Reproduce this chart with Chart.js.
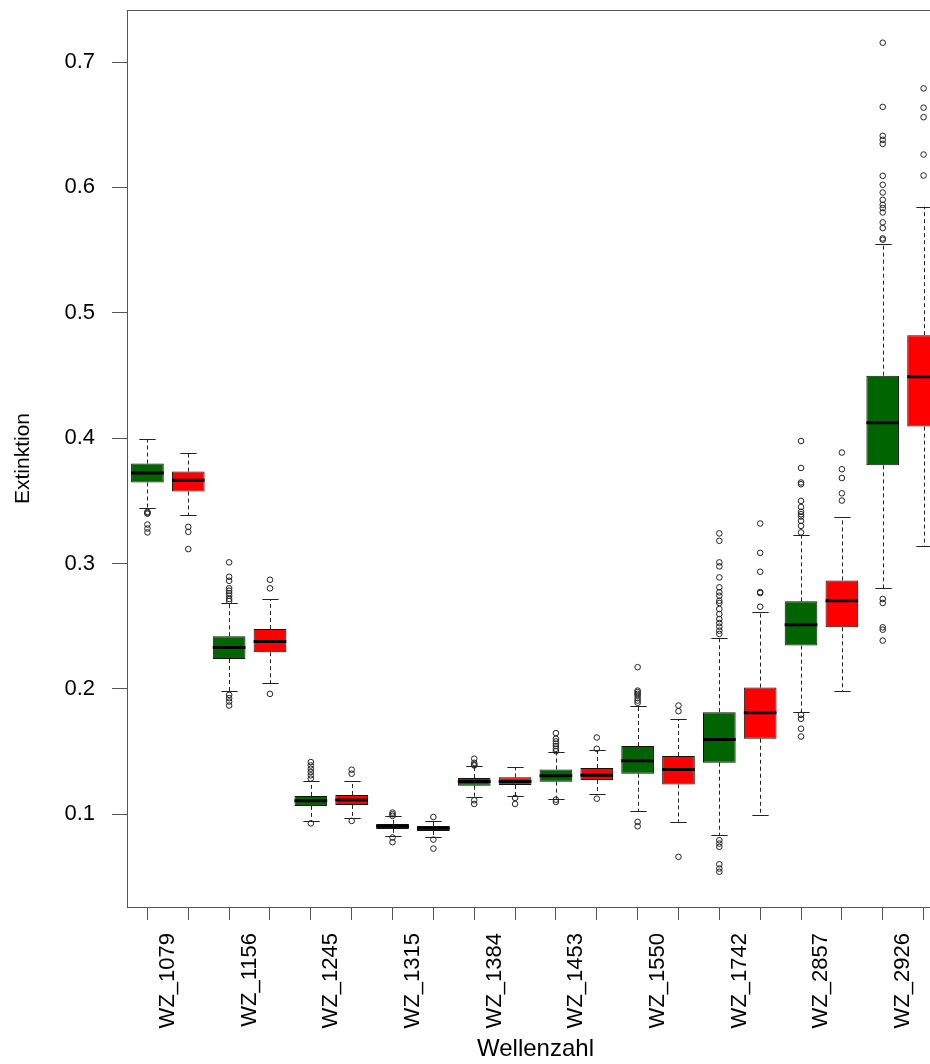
<!DOCTYPE html>
<html>
<head>
<meta charset="utf-8">
<script src="https://cdn.jsdelivr.net/npm/chart.js@4.4.1/dist/chart.umd.min.js"></script>
<style>
  html, body { margin: 0; padding: 0; background: #fff; overflow: hidden; }
  #wrap { width: 960px; height: 1064px; }
</style>
</head>
<body>
<div id="wrap"><canvas id="chart" width="960" height="1064"></canvas></div>
<script>
// Wellenzahlen, je zwei Boxen (grün / rot)
const wavenumbers = ['WZ_1079', 'WZ_1156', 'WZ_1245', 'WZ_1315', 'WZ_1384',
                     'WZ_1453', 'WZ_1550', 'WZ_1742', 'WZ_2857', 'WZ_2926'];

// Kennwerte der 20 Boxen
const whiskerLow  = [0.3440, 0.3383, 0.1979, 0.2045, 0.0943, 0.0967, 0.0827, 0.0819, 0.1135, 0.1143,
                     0.1124, 0.1162, 0.1026, 0.0939, 0.0835, 0.0991, 0.1814, 0.1979, 0.2802, 0.3136];
const q1          = [0.3646, 0.3574, 0.2239, 0.2292, 0.1066, 0.1074, 0.0883, 0.0867, 0.1228, 0.1233,
                     0.1260, 0.1273, 0.1323, 0.1238, 0.1411, 0.1602, 0.2345, 0.2491, 0.3783, 0.4092];
const median      = [0.3722, 0.3664, 0.2329, 0.2377, 0.1108, 0.1114, 0.0904, 0.0888, 0.1262, 0.1262,
                     0.1307, 0.1310, 0.1427, 0.1357, 0.1596, 0.1809, 0.2512, 0.2703, 0.4123, 0.4490];
const q3          = [0.3797, 0.3733, 0.2420, 0.2478, 0.1146, 0.1154, 0.0923, 0.0907, 0.1289, 0.1294,
                     0.1357, 0.1369, 0.1544, 0.1464, 0.1814, 0.2010, 0.2698, 0.2865, 0.4498, 0.4821];
const whiskerHigh = [0.3993, 0.3879, 0.2687, 0.2714, 0.1268, 0.1262, 0.0983, 0.0943, 0.1381, 0.1373,
                     0.1496, 0.1514, 0.1867, 0.1759, 0.2404, 0.2611, 0.3226, 0.3367, 0.5549, 0.5846];

const outliers = [
  [0.3404, 0.3412, 0.3397, 0.3311, 0.3279, 0.3248],
  [0.3292, 0.3252, 0.3115],
  [0.3009, 0.2894, 0.2862, 0.2802, 0.2783, 0.2764, 0.2743, 0.2717, 0.2700, 0.1952, 0.1926, 0.1899, 0.1867],
  [0.2870, 0.2802, 0.1960],
  [0.1416, 0.1389, 0.1363, 0.1337, 0.1310, 0.1284, 0.0927],
  [0.1355, 0.1323, 0.0947],
  [0.1013, 0.1000, 0.0987, 0.0814, 0.0777],
  [0.0978, 0.0798, 0.0726],
  [0.1443, 0.1410, 0.1395, 0.1389, 0.1111, 0.1082],
  [0.1130, 0.1082],
  [0.1647, 0.1602, 0.1581, 0.1562, 0.1544, 0.1522, 0.1504, 0.1116, 0.1098],
  [0.1612, 0.1522, 0.1124],
  [0.2173, 0.1986, 0.1974, 0.1960, 0.1947, 0.1926, 0.1907, 0.1889, 0.0939, 0.0904],
  [0.1867, 0.1822, 0.0660],
  [0.3240, 0.3181, 0.3009, 0.2977, 0.2889, 0.2810, 0.2770, 0.2743, 0.2703, 0.2685, 0.2637, 0.2597,
   0.2557, 0.2525, 0.2496, 0.2464, 0.2438, 0.0793, 0.0766, 0.0740, 0.0601, 0.0567, 0.0541],
  [0.3319, 0.3085, 0.2934, 0.2772, 0.2764, 0.2655],
  [0.3977, 0.3762, 0.3646, 0.3632, 0.3499, 0.3451, 0.3412, 0.3393, 0.3375, 0.3340, 0.3300, 0.3248,
   0.1793, 0.1761, 0.1682, 0.1620],
  [0.3885, 0.3752, 0.3682, 0.3560, 0.3502],
  [0.7154, 0.6642, 0.6411, 0.6379, 0.6347, 0.6092, 0.6021, 0.5959, 0.5901, 0.5861, 0.5835, 0.5800,
   0.5721, 0.5676, 0.5593, 0.5583, 0.2717, 0.2685, 0.2491, 0.2472, 0.2385],
  [0.6790, 0.6636, 0.6560, 0.6262, 0.6095]
];

const yTicks = [0.1, 0.2, 0.3, 0.4, 0.5, 0.6, 0.7];

// interne Kategorien: zwei pro Wellenzahl
const boxKeys = wavenumbers.flatMap(w => [w + ' a', w + ' b']);
const boxColors = boxKeys.map((k, i) => i % 2 === 0 ? '#006400' : '#ff0000');

const FONT = '"Liberation Sans", Arial, sans-serif';

const boxExtras = {
  id: 'boxExtras',
  beforeDatasetsDraw(chart) {
    const {ctx, scales: {x, y}} = chart;
    const bars = chart.getDatasetMeta(1).data;
    ctx.save();
    ctx.strokeStyle = '#222';
    ctx.lineWidth = 1;
    boxKeys.forEach((k, i) => {
      const px = Math.round(x.getPixelForValue(i)) + 0.5;
      const half = bars[i].width / 4;
      ctx.setLineDash([4, 3]);
      ctx.beginPath();
      ctx.moveTo(px, y.getPixelForValue(q3[i]));
      ctx.lineTo(px, y.getPixelForValue(whiskerHigh[i]));
      ctx.moveTo(px, y.getPixelForValue(q1[i]));
      ctx.lineTo(px, y.getPixelForValue(whiskerLow[i]));
      ctx.stroke();
      ctx.setLineDash([]);
      ctx.beginPath();
      const yh = Math.round(y.getPixelForValue(whiskerHigh[i])) + 0.5;
      const yl = Math.round(y.getPixelForValue(whiskerLow[i])) + 0.5;
      ctx.moveTo(px - half, yh); ctx.lineTo(px + half, yh);
      ctx.moveTo(px - half, yl); ctx.lineTo(px + half, yl);
      ctx.stroke();
    });
    ctx.restore();
  },
  afterDatasetsDraw(chart) {
    const {ctx, scales: {x, y}} = chart;
    const bars = chart.getDatasetMeta(1).data;
    ctx.save();
    ctx.strokeStyle = '#000';
    ctx.lineWidth = 3;
    boxKeys.forEach((k, i) => {
      const px = x.getPixelForValue(i);
      const half = bars[i].width / 2;
      const py = y.getPixelForValue(median[i]);
      ctx.beginPath();
      ctx.moveTo(px - half, py);
      ctx.lineTo(px + half, py);
      ctx.stroke();
    });
    // Rahmen
    const a = chart.chartArea;
    ctx.lineWidth = 1;
    ctx.strokeStyle = '#555';
    ctx.strokeRect(a.left + 0.5, a.top + 0.5, a.right - a.left, a.bottom - a.top);
    ctx.restore();
  }
};

new Chart(document.getElementById('chart'), {
  type: 'bar',
  data: {
    labels: boxKeys,
    datasets: [
      {
        type: 'scatter',
        data: outliers.flatMap((arr, i) => arr.map(v => ({x: boxKeys[i], y: v}))),
        pointStyle: 'circle',
        pointRadius: 2.8,
        backgroundColor: 'rgba(0,0,0,0)',
        borderColor: '#222',
        borderWidth: 1
      },
      {
        data: q1.map((v, i) => [v, q3[i]]),
        backgroundColor: boxColors,
        borderColor: '#111',
        borderWidth: 1,
        borderSkipped: false,
        barPercentage: 0.8,
        categoryPercentage: 1.0
      }
    ]
  },
  options: {
    responsive: false,
    animation: false,
    events: [],
    layout: { padding: { left: 0, top: 10, right: 16, bottom: 0 } },
    plugins: { legend: { display: false }, tooltip: { enabled: false } },
    scales: {
      x: {
        type: 'category',
        offset: true,
        grid: { offset: false, drawOnChartArea: false, drawTicks: true, tickLength: 13, color: '#555' },
        border: { display: false },
        ticks: {
          autoSkip: false,
          minRotation: 90,
          maxRotation: 90,
          padding: 13,
          labelOffset: 20.4,
          color: '#000',
          font: { family: FONT, size: 22 },
          callback: (v, i) => i % 2 === 0 ? wavenumbers[i / 2] : ''
        },
        title: {
          display: true,
          text: 'Wellenzahl',
          color: '#000',
          font: { family: FONT, size: 24 },
          padding: { top: 0, bottom: 0 }
        },
        afterFit: s => { s.height = 157; s.paddingLeft = 0; s.paddingRight = 0; }
      },
      y: {
        min: 0.026,
        max: 0.7415,
        afterBuildTicks: s => { s.ticks = yTicks.map(v => ({value: v})); },
        grid: { drawOnChartArea: false, tickLength: 15, color: '#555' },
        border: { display: false },
        ticks: {
          padding: 17,
          color: '#000',
          font: { family: FONT, size: 22 },
          callback: v => v.toFixed(1)
        },
        title: {
          display: true,
          text: 'Extinktion',
          color: '#000',
          font: { family: FONT, size: 21 },
          padding: { top: 11, bottom: 0 }
        },
        afterFit: s => { s.width = 127; s.paddingTop = 0; s.paddingBottom = 0; }
      }
    }
  },
  plugins: [boxExtras]
});
</script>
</body>
</html>
